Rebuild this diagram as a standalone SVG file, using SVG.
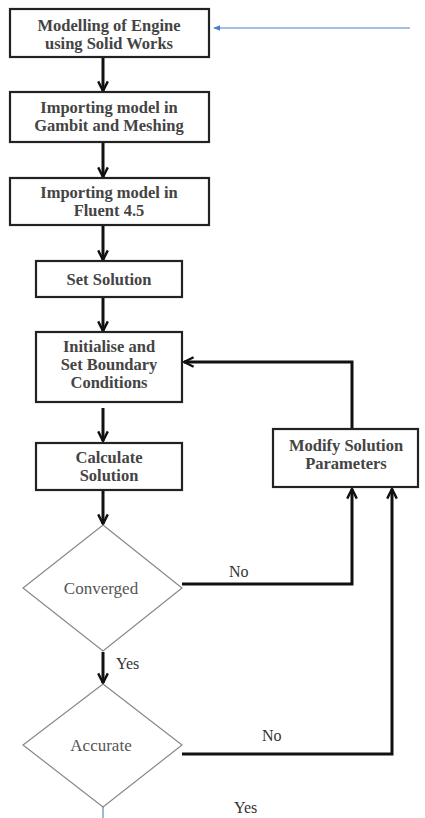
<svg xmlns="http://www.w3.org/2000/svg" width="425" height="818" viewBox="0 0 425 818">
<defs>
<marker id="ah" viewBox="0 0 10 10" refX="9" refY="5" markerWidth="4" markerHeight="4" orient="auto" markerUnits="strokeWidth">
<path d="M1,1 L9,5 L1,9" fill="none" stroke="#111" stroke-width="2"/>
</marker>
<marker id="bh" viewBox="0 0 10 10" refX="9" refY="5" markerWidth="6" markerHeight="6" orient="auto" markerUnits="strokeWidth">
<path d="M0,1 L10,5 L0,9 Z" fill="#4a7fc9"/>
</marker>
<style>
.box{fill:#fff;stroke:#222;stroke-width:2.2}
.dia{fill:#fff;stroke:#888;stroke-width:1.2}
.bt{font-family:"Liberation Serif","DejaVu Serif",serif;font-size:16.5px;font-weight:bold;fill:#444;text-anchor:middle}
.dt{font-family:"Liberation Serif","DejaVu Serif",serif;font-size:17px;fill:#555;text-anchor:middle}
.lb{font-family:"Liberation Serif","DejaVu Serif",serif;font-size:16px;fill:#333}
.ar{fill:none;stroke:#111;stroke-width:3;marker-end:url(#ah)}
</style>
</defs>
<g id="connectors">
<line class="ar" x1="410" y1="28" x2="214" y2="28" style="stroke:#4a7fc9;stroke-width:1.2;marker-end:url(#bh)"/>
<line class="ar" x1="103" y1="58" x2="103" y2="91"/>
<line class="ar" x1="103" y1="143" x2="103" y2="177"/>
<line class="ar" x1="103" y1="226" x2="103" y2="260"/>
<line class="ar" x1="103" y1="298" x2="103" y2="331"/>
<line class="ar" x1="103" y1="408" x2="103" y2="441"/>
<line class="ar" x1="103" y1="491" x2="103" y2="524"/>
<line class="ar" x1="103" y1="652" x2="103" y2="683"/>
<polyline class="ar" points="352,428 352,362 184,362"/>
<polyline class="ar" points="182,584 352,584 352,489"/>
<polyline class="ar" points="182,754 392,754 392,489"/>
<line x1="103" y1="807" x2="103" y2="818" stroke="#9db8dc" stroke-width="2"/>
<text class="lb" x="229" y="577">No</text>
<text class="lb" x="116" y="669">Yes</text>
<text class="lb" x="262" y="741">No</text>
<text class="lb" x="234" y="813">Yes</text>
</g>
<g id="n1"><rect class="box" x="10" y="9" width="199" height="48"/>
<text class="bt" x="109" y="31">Modelling of Engine</text><text class="bt" x="109" y="49">using Solid Works</text></g>
<g id="n2"><rect class="box" x="10" y="92" width="199" height="50"/>
<text class="bt" x="109" y="113">Importing model in</text><text class="bt" x="109" y="131">Gambit and Meshing</text></g>
<g id="n3"><rect class="box" x="10" y="178" width="199" height="47"/>
<text class="bt" x="109" y="198">Importing model in</text><text class="bt" x="109" y="216">Fluent 4.5</text></g>
<g id="n4"><rect class="box" x="36" y="261" width="146" height="36"/>
<text class="bt" x="109" y="285">Set Solution</text></g>
<g id="n5"><rect class="box" x="36" y="332" width="146" height="70"/>
<text class="bt" x="109" y="352">Initialise and</text><text class="bt" x="109" y="370">Set Boundary</text><text class="bt" x="109" y="388">Conditions</text></g>
<g id="n6"><rect class="box" x="36" y="443" width="146" height="47"/>
<text class="bt" x="109" y="463">Calculate</text><text class="bt" x="109" y="481">Solution</text></g>
<g id="n7"><rect class="box" x="273" y="429" width="145" height="58"/>
<text class="bt" x="346" y="451">Modify Solution</text><text class="bt" x="346" y="469">Parameters</text></g>
<g id="n8"><polygon class="dia" points="103,525 182,588 103,651 23,588"/>
<text class="dt" x="101" y="594">Converged</text></g>
<g id="n9"><polygon class="dia" points="103,684 182,745 103,807 23,745"/>
<text class="dt" x="101" y="751">Accurate</text></g>
</svg>
